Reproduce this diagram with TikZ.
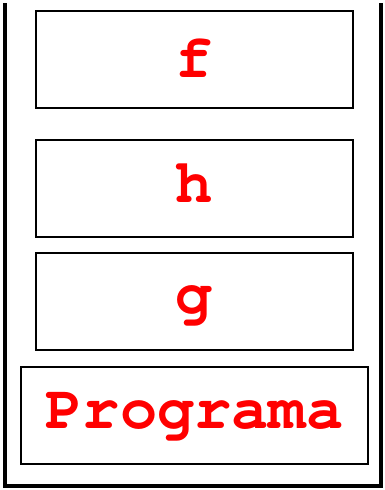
\documentclass[tikz,border=0pt]{standalone}
\usepackage{tikz}
\usetikzlibrary{positioning}
\newcommand{\codefont}{\fontencoding{OT1}\fontfamily{pcr}\fontseries{b}\selectfont}

\begin{document}
\begin{tikzpicture}[x=1pt, y=-1pt,
    frame/.style={rectangle, draw, line width=2pt, minimum height=97pt, inner sep=0pt,
        text depth=0pt, font=\codefont\fontsize{62}{62}\selectfont, text=red},
    pile/.style={line width=3.5pt}]

    \useasboundingbox (0,0) rectangle (384,490);

    \node[frame, minimum width=317pt, text height=35pt] (f) at (194.5,59.5) {f};
    \node[frame, minimum width=317pt, text height=28pt] (h) at (194.5,188) {h};
    \node[frame, minimum width=317pt, text height=23pt] (g) at (194.5,301.5) {g};
    \node[frame, minimum width=347pt, text height=26pt] (prog) at (194.5,415) {Programa};

    \coordinate (tl) at (5,3);
    \coordinate (tr) at (381,3);
    \draw[pile] (tl) |- (381,486) -- (tr);
\end{tikzpicture}
\end{document}
